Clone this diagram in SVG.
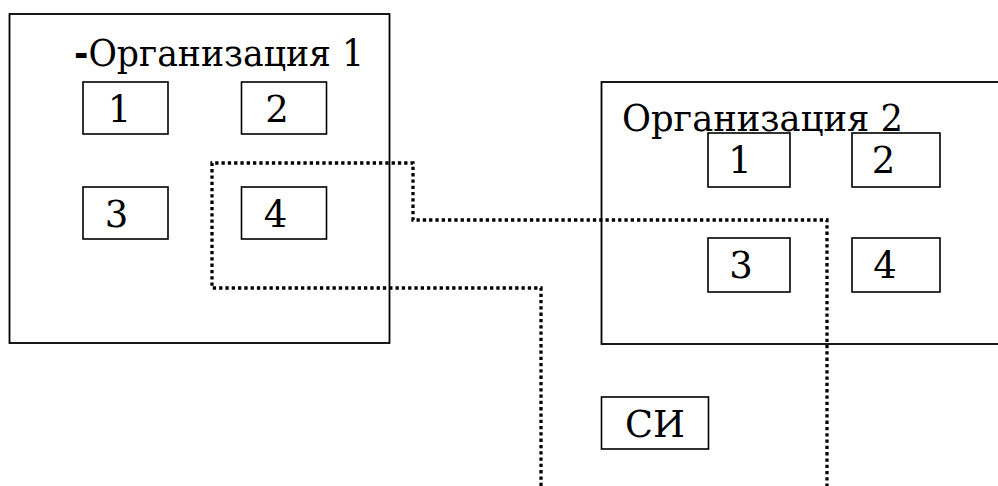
<svg xmlns="http://www.w3.org/2000/svg" width="998" height="486" viewBox="0 0 998 486">
<style>
.frame{fill:none;stroke:#000;stroke-width:1.8}
.box{fill:none;stroke:#000;stroke-width:1.6}
.t{font-family:"DejaVu Serif",serif;font-size:37px;fill:#000}
.c{text-anchor:middle}
.dot{fill:none;stroke:#000;stroke-width:3.3;stroke-dasharray:3.3 3}
</style>
<rect width="998" height="486" fill="#fff"/>
<g id="org1">
<rect class="frame" x="9.5" y="14" width="380" height="329"/>
<text class="t" x="74" y="66" textLength="290" lengthAdjust="spacingAndGlyphs"><tspan font-weight="bold">-</tspan>Организация 1</text>
</g>
<g id="org1-1"><rect class="box" x="83" y="82" width="85" height="52"/><text class="t c" x="119.5" y="122">1</text></g>
<g id="org1-2"><rect class="box" x="241.5" y="82" width="85" height="52"/><text class="t c" x="277" y="122">2</text></g>
<g id="org1-3"><rect class="box" x="83" y="187" width="85" height="52"/><text class="t c" x="116.5" y="227">3</text></g>
<g id="org1-4"><rect class="box" x="241.5" y="187" width="85" height="52"/><text class="t c" x="275.5" y="227">4</text></g>
<g id="org2">
<rect class="frame" x="601.5" y="82" width="420" height="262"/>
<text class="t" x="622" y="131" textLength="281" lengthAdjust="spacingAndGlyphs">Организация 2</text>
</g>
<g id="org2-1"><rect class="box" x="708" y="133" width="82" height="54"/><text class="t c" x="740" y="173">1</text></g>
<g id="org2-2"><rect class="box" x="852" y="133" width="88" height="54"/><text class="t c" x="883.5" y="173">2</text></g>
<g id="org2-3"><rect class="box" x="708" y="238" width="82" height="54"/><text class="t c" x="741" y="278">3</text></g>
<g id="org2-4"><rect class="box" x="852" y="238" width="88" height="54"/><text class="t c" x="885" y="278">4</text></g>
<g id="si"><rect class="box" x="601.5" y="397" width="107" height="52"/><text class="t c" x="655" y="437" textLength="60" lengthAdjust="spacingAndGlyphs">СИ</text></g>
<g id="connectors">
<path class="dot" d="M541,486 V288 H212 V163 H413 V220 H827 V486"/>
</g>
</svg>
